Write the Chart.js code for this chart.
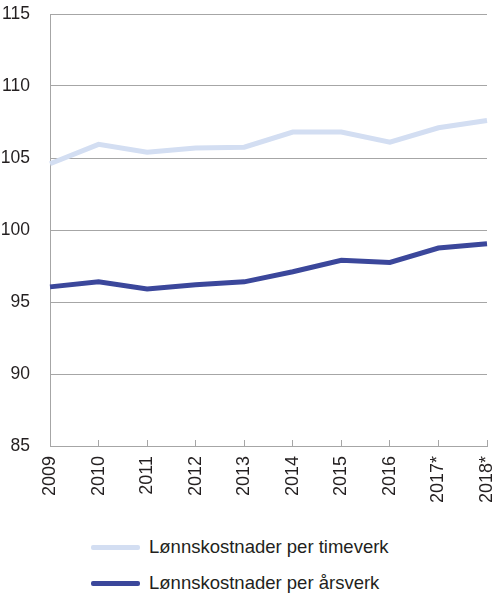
<!DOCTYPE html>
<html>
<head>
<meta charset="utf-8">
<script src="https://cdn.jsdelivr.net/npm/chart.js@4/dist/chart.umd.min.js"></script>
<style>
  html, body { margin: 0; padding: 0; background: #fff; }
  body { width: 500px; height: 603px; position: relative; overflow: hidden; font-family: "Liberation Sans", Arial, sans-serif; }
  #wrap { position: absolute; left: 0; top: 0; width: 500px; height: 520px; }
  .leg { position: absolute; left: 0; width: 500px; height: 30px; }
  .leg .ln { position: absolute; left: 91px; width: 49px; height: 5px; top: 12.5px; border-radius: 2px; }
  .leg .tx { position: absolute; left: 149px; top: 0; line-height: 30px; font-size: 18.5px; color: #231f20; white-space: nowrap; }
</style>
</head>
<body>
<div id="wrap"><canvas id="c"></canvas></div>
<div class="leg" style="top:532px"><div class="ln" id="l1"></div><div class="tx" id="t1"></div></div>
<div class="leg" style="top:568px"><div class="ln" id="l2"></div><div class="tx" id="t2"></div></div>
<script>
const categories = ["2009", "2010", "2011", "2012", "2013", "2014", "2015", "2016", "2017*", "2018*"];
const seriesNames = ["Lønnskostnader per timeverk", "Lønnskostnader per årsverk"];
const perTimeverk = [104.6, 105.95, 105.4, 105.7, 105.75, 106.8, 106.8, 106.1, 107.1, 107.6];
const perArsverk = [96.05, 96.4, 95.9, 96.2, 96.4, 97.1, 97.9, 97.75, 98.75, 99.05];
const yTicks = [85, 90, 95, 100, 105, 110, 115];
const colors = ["#d3def2", "#3b479b"];

document.getElementById('l1').style.background = colors[0];
document.getElementById('l2').style.background = colors[1];
document.getElementById('t1').textContent = seriesNames[0];
document.getElementById('t2').textContent = seriesNames[1];

const gridColor = "#a6a6a6";
const yFont = { family: "'Liberation Sans', Arial, sans-serif", size: 17.5 };
const xFont = { family: "'Liberation Sans', Arial, sans-serif", size: 18 };

function zeroPad(s) { s.paddingTop = 0; s.paddingBottom = 0; s.paddingLeft = 0; s.paddingRight = 0; }

new Chart(document.getElementById('c'), {
  type: 'line',
  data: {
    labels: categories,
    datasets: [
      { label: seriesNames[0], data: perTimeverk, borderColor: colors[0], backgroundColor: colors[0], borderWidth: 5, pointRadius: 0, tension: 0, fill: false },
      { label: seriesNames[1], data: perArsverk, borderColor: colors[1], backgroundColor: colors[1], borderWidth: 5, pointRadius: 0, tension: 0, fill: false }
    ]
  },
  options: {
    responsive: true,
    maintainAspectRatio: false,
    animation: false,
    layout: { padding: { top: 14, right: 13, left: 0, bottom: 0 } },
    plugins: { legend: { display: false }, tooltip: { enabled: false } },
    scales: {
      x: {
        offset: false,
        grid: { display: true, drawOnChartArea: false, drawTicks: true, tickLength: -6, color: gridColor, lineWidth: 1 },
        border: { display: true, color: gridColor, width: 1 },
        ticks: { color: '#231f20', font: xFont, minRotation: 90, maxRotation: 90, padding: 16, autoSkip: false },
        afterFit: (s) => { s.height = 74; zeroPad(s); }
      },
      y: {
        min: yTicks[0],
        max: yTicks[yTicks.length - 1],
        afterBuildTicks: (s) => { s.ticks = yTicks.map(v => ({ value: v })); },
        grid: { drawTicks: false, color: gridColor, lineWidth: 1 },
        border: { display: true, color: gridColor, width: 1 },
        ticks: { color: '#231f20', font: yFont, padding: 20 },
        afterFit: (s) => { s.width = 50; zeroPad(s); }
      }
    }
  }
});
</script>
</body>
</html>
